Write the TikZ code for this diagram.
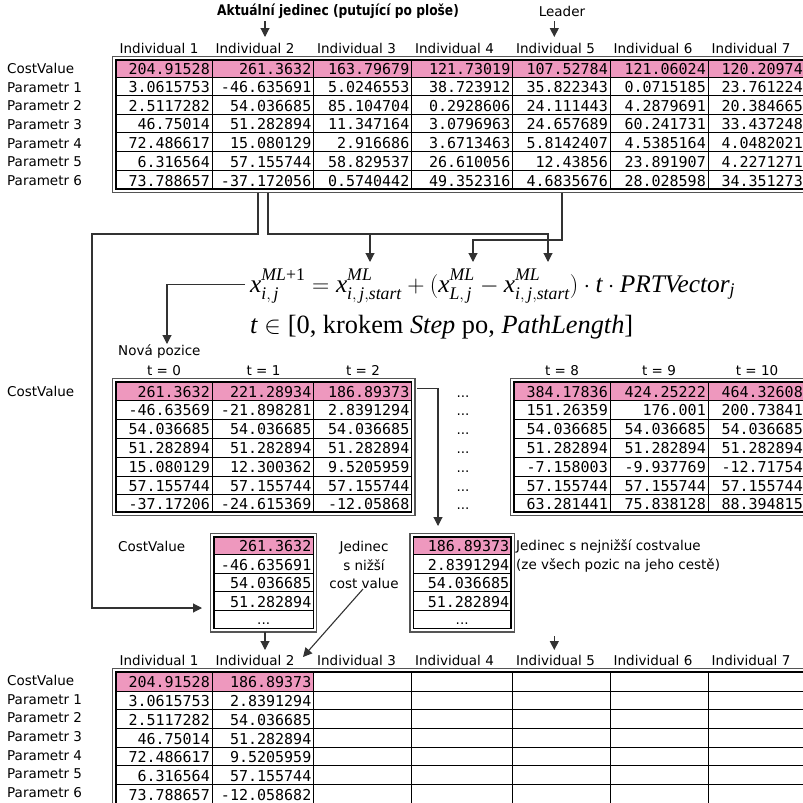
\documentclass[tikz,border=0pt]{standalone}
\usepackage{amsmath}
\usepackage{fontspec}
\usepackage{graphicx}
\usetikzlibrary{arrows.meta}
\newfontfamily\gf{DejaVu Sans}
\newfontfamily\gm{DejaVu Sans Mono}
\newfontfamily\tms{Liberation Serif}
\newcommand\ti[1]{\text{\tms\itshape #1}}
\newcommand\tr[1]{\text{\tms #1}}
\newcommand\supx[1]{#1\rule[-3pt]{0pt}{3pt}}
\newcommand\subx[1]{#1\rule{0pt}{9pt}}
\definecolor{pinkc}{RGB}{238,152,190}
\definecolor{linec}{RGB}{50,50,50}
\definecolor{framec}{RGB}{85,85,85}
\begin{document}
\begin{tikzpicture}[x=1pt,y=-1pt,
  lbl/.style={font=\gf\fontsize{13.5}{16}\selectfont, anchor=base west, inner sep=0pt},
  clbl/.style={font=\gf\fontsize{13.5}{16}\selectfont, anchor=base, inner sep=0pt},
  num/.style={font=\gm\fontsize{15}{16}\selectfont, anchor=base east, inner sep=0pt},
  cell/.style={draw=black, line width=1pt},
  inframe/.style={draw=black, line width=1.2pt},
  outframe/.style={draw=framec, line width=1.5pt},
  conn/.style={draw=linec, line width=1.1pt},
  arr/.style={conn, -{Triangle[length=9pt,width=9pt]}}]
\useasboundingbox (0,0) rectangle (803,803);

% ---------- titles ----------
\node[font=\gf\bfseries\fontsize{14.5}{16}\selectfont, anchor=base, inner sep=0pt] (title) at (338,15.5)
  {\scalebox{0.845}[1]{Aktuální jedinec (putující po ploše)}};
\node[clbl] (leader) at (562,16.5) {Leader};
\coordinate (tA1) at (265,21); \coordinate (tA2) at (265,37);
\coordinate (lA1) at (554.3,21); \coordinate (lA2) at (554.3,37);
\draw[arr] (tA1) -- (tA2);
\draw[arr] (lA1) -- (lA2);

% ---------- top table ----------
\fill[pinkc] (116,60) rectangle (812,77);
\foreach \x in {212,313.5,411.5,512.5,610,708} \draw[cell] (\x,60) -- (\x,189);
\foreach \y in {77,95.5,114,132.7,151.3,170} \draw[cell] (116,\y) -- (812,\y);
\draw[inframe] (116,60) rectangle (812,189);
\draw[outframe] (112.5,56.5) rectangle (815,192.5);
\foreach \x [count=\c] in {119.5,215.5,317,415,516,613.5,711.5}
  \node[lbl] (TH-\c) at (\x,53) {Individual \c};
\foreach \t [count=\r from 0] in {CostValue,Parametr 1,Parametr 2,Parametr 3,Parametr 4,Parametr 5,Parametr 6}{
  \pgfmathsetmacro\yb{{73.5,92.3,110.8,129.5,148.1,166.8,185.6}[\r]}
  \node[lbl] (TL-\r) at (7,\yb) {\t};
}
\foreach \rowv [count=\r from 0] in {
 {204.91528,261.3632,163.79679,121.73019,107.52784,121.06024,120.20974},
 {3.0615753,-46.635691,5.0246553,38.723912,35.822343,0.0715185,23.761224},
 {2.5117282,54.036685,85.104704,0.2928606,24.111443,4.2879691,20.384665},
 {46.75014,51.282894,11.347164,3.0796963,24.657689,60.241731,33.437248},
 {72.486617,15.080129,2.916686,3.6713463,5.8142407,4.5385164,4.0482021},
 {6.316564,57.155744,58.829537,26.610056,12.43856,23.891907,4.2271271},
 {73.788657,-37.172056,0.5740442,49.352316,4.6835676,28.028598,34.351273}}{
  \pgfmathsetmacro\yb{{74,92.5,111,129.7,148.3,167,186}[\r]}
  \foreach \v [count=\c from 0] in \rowv {
    \pgfmathsetmacro\xr{{210,311.5,409.5,510.5,608,706,803}[\c]}
    \node[num] (T-\r-\c) at (\xr,\yb) {\v};
  }
}
\coordinate (tb2a) at (258,192.5);
\coordinate (tb2b) at (268,192.5);
\coordinate (tb5) at (562,192.5);

% ---------- formula ----------
\node[anchor=base west, inner sep=0pt] (f1) at (250,292)
  {\resizebox{485pt}{!}{\fontsize{22}{26}\selectfont
   $\ti{x}^{\supx{\ti{ML}\tr{+1}}}_{\subx{\ti{i},\,\ti{j}}} = \ti{x}^{\supx{\ti{ML}}}_{\subx{\ti{i},\,\ti{j},\ti{start}}} + (\ti{x}^{\supx{\ti{ML}}}_{\subx{\ti{L},\,\ti{j}}} - \ti{x}^{\supx{\ti{ML}}}_{\subx{\ti{i},\,\ti{j},\ti{start}}})\cdot \ti{t}\cdot \ti{PRTVector}_{\ti{j}}$}};
\node[anchor=base west, inner sep=0pt] (f2) at (250,333)
  {\resizebox{383pt}{!}{\fontsize{22}{26}\selectfont
   $\ti{t}\in\tr{[0, krokem }\ti{Step}\tr{ po, }\ti{PathLength}\tr{]}$}};
\coordinate (jA) at (92,234);
\coordinate (sLin) at (202,608);
\coordinate (jB) at (370,234);
\coordinate (fS1) at (370,262);
\coordinate (fS2) at (548,262);
\coordinate (jC) at (473,240);
\coordinate (fL) at (473,262);
\coordinate (fOut) at (245,284.3);
\coordinate (novaIn) at (167,344);
\draw[arr] (tb2a) |- (jA) |- (sLin);
\draw[arr] (tb2b) |- (jB) -| (fS2);
\draw[arr] (jB) -- (fS1);
\draw[arr] (tb5) |- (jC) -- (fL);
\draw[arr] (fOut) -| (novaIn);

% ---------- middle tables ----------
\node[lbl] (nova) at (118,355) {Nová pozice};
\node[lbl] (MLc) at (7,396.5) {CostValue};
\foreach \x/\t in {164/t = 0,263.5/t = 1,363/t = 2,562/t = 8,659/t = 9,757/t = 10}
  \node[clbl] at (\x,375.5) {\t};
% left
\fill[pinkc] (116,382) rectangle (411.5,400);
\foreach \x in {212,313.5} \draw[cell] (\x,382) -- (\x,512);
\foreach \y in {400,419,438,457,476,494.5} \draw[cell] (116,\y) -- (411.5,\y);
\draw[inframe] (116,382) rectangle (411.5,512);
\draw[outframe] (112.5,378.5) rectangle (415,515.5);
% right
\fill[pinkc] (514,382) rectangle (812,400);
\foreach \x in {610,708} \draw[cell] (\x,382) -- (\x,512);
\foreach \y in {400,419,438,457,476,494.5} \draw[cell] (514,\y) -- (812,\y);
\draw[inframe] (514,382) rectangle (812,512);
\draw[outframe] (510.5,378.5) rectangle (815,515.5);
\foreach \rowv [count=\r from 0] in {
 {261.3632,221.28934,186.89373,384.17836,424.25222,464.32608},
 {-46.63569,-21.898281,2.8391294,151.26359,176.001,200.73841},
 {54.036685,54.036685,54.036685,54.036685,54.036685,54.036685},
 {51.282894,51.282894,51.282894,51.282894,51.282894,51.282894},
 {15.080129,12.300362,9.5205959,-7.158003,-9.937769,-12.71754},
 {57.155744,57.155744,57.155744,57.155744,57.155744,57.155744},
 {-37.17206,-24.615369,-12.05868,63.281441,75.838128,88.394815}}{
  \pgfmathsetmacro\yb{{397,415.8,434.8,453.8,472.6,491.2,509}[\r]}
  \node[clbl] (D-\r) at (463,\yb) {...};
  \foreach \v [count=\c from 0] in \rowv {
    \pgfmathsetmacro\xr{{210,311.5,409.5,608,706,803}[\c]}
    \node[num] (M-\r-\c) at (\xr,\yb) {\v};
  }
}
\coordinate (t2out) at (416.5,388.3);
\coordinate (sRin) at (438,526);
\draw[arr] (t2out) -| (sRin);

% ---------- small tables ----------
\node[lbl] (SLc) at (118,551) {CostValue};
\foreach \xa/\xb/\nm in {214/313.3/SL,413.3/511/SR}{
  \fill[pinkc] (\xa,537) rectangle (\xb,554.3);
  \foreach \y in {554.3,573.3,591.7,610} \draw[cell] (\xa,\y) -- (\xb,\y);
  \draw[inframe] (\xa,537) rectangle (\xb,628.3);
  \draw[outframe] (\xa-3.4,533.5) rectangle (\xb+3.4,631.8);
  \node[clbl] (\nm-dots) at ({(\xa+\xb)/2},624) {...};
}
\foreach \v [count=\r from 0] in {261.3632,-46.635691,54.036685,51.282894}{
  \pgfmathsetmacro\yb{{551.3,570.3,588.8,607.3}[\r]}
  \node[num] (SL-\r) at (311.5,\yb) {\v};
}
\foreach \v [count=\r from 0] in {186.89373,2.8391294,54.036685,51.282894}{
  \pgfmathsetmacro\yb{{551.3,570.3,588.8,607.3}[\r]}
  \node[num] (SR-\r) at (509.3,\yb) {\v};
}
\node[clbl] (j1) at (364,551) {Jedinec};
\node[clbl] (j2) at (364,570) {s nižší};
\node[clbl] (j3) at (364,588) {cost value};
\node[lbl] (k1) at (516,550.5) {Jedinec s nejnižší costvalue};
\node[lbl] (k2) at (516,569) {(ze všech pozic na jeho cestě)};
\coordinate (sLo) at (265,632); \coordinate (sLo2) at (265,650);
\coordinate (cvA) at (363,589); \coordinate (cvB) at (303,657);
\coordinate (rA1) at (554.3,636); \coordinate (rA2) at (554.3,650);
\draw[arr] (sLo) -- (sLo2);
\draw[arr] (cvA) -- (cvB);
\draw[arr] (rA1) -- (rA2);

% ---------- bottom table ----------
\fill[pinkc] (116,672) rectangle (313.5,691);
\foreach \x in {212,313.5,411.5,512.5,610,708} \draw[cell] (\x,672) -- (\x,803.5);
\foreach \y in {691,709.3,728.3,747.3,765.7,784.3} \draw[cell] (116,\y) -- (812,\y);
\draw[inframe] (116,672) rectangle (812,803.5);
\draw[outframe] (112.5,668.5) rectangle (815,807);
\foreach \x [count=\c] in {119.5,215.5,317,415,516,613.5,711.5}
  \node[lbl] (BH-\c) at (\x,665) {Individual \c};
\foreach \t [count=\r from 0] in {CostValue,Parametr 1,Parametr 2,Parametr 3,Parametr 4,Parametr 5,Parametr 6}{
  \pgfmathsetmacro\yb{{685,704,722.5,741.5,760,778.5,797.5}[\r]}
  \node[lbl] (BL-\r) at (7,\yb) {\t};
}
\foreach \a/\b [count=\r from 0] in {204.91528/186.89373,3.0615753/2.8391294,2.5117282/54.036685,46.75014/51.282894,72.486617/9.5205959,6.316564/57.155744,73.788657/-12.058682}{
  \pgfmathsetmacro\yb{{687,706,725,744,762.5,781,800}[\r]}
  \node[num] (B-\r-0) at (210,\yb) {\a};
  \node[num] (B-\r-1) at (311.5,\yb) {\b};
}
\end{tikzpicture}
\end{document}
